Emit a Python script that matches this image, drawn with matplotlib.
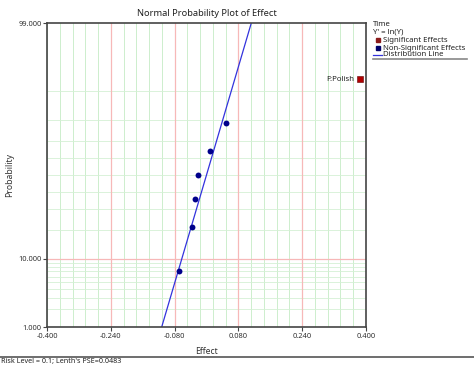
import matplotlib
matplotlib.use("Agg")
import matplotlib.pyplot as plt
from matplotlib.lines import Line2D
from statistics import NormalDist
import numpy as np

plt.rcParams['font.family'] = ['Noto Sans', 'DejaVu Sans']

# ---- data ----
nonsig_effects = [-0.0697, -0.0356, -0.0288, -0.0213, 0.0095, 0.0489]
nonsig_probs = [7.14, 21.43, 35.71, 50.00, 64.29, 78.57]
sig_labels = ["F:Polish"]
sig_effects = [0.385]
sig_probs = [92.86]
lenth_pse = 0.0483
risk_level = 0.1
line_probs = [0.5, 99.5]
x_ticks = [-0.400, -0.240, -0.080, 0.080, 0.240, 0.400]
y_ticks = [1.0, 10.0, 99.0]
y_minor = [2, 3, 4, 5, 6, 7, 8, 9, 20, 30, 40, 50, 60, 70, 80, 90]

nd = NormalDist()
def z(p):
    return np.array([nd.inv_cdf(v / 100.0) for v in p])

W, H = 474, 365
fig = plt.figure(figsize=(W / 100, H / 100), dpi=100)
ax = fig.add_axes([47 / W, 1 - 327 / H, (366 - 47) / W, (327 - 23) / H])

ax.set_xlim(-0.4, 0.4)
ax.set_ylim(z([1])[0], z([99])[0])

# grid
minor_x = np.arange(-0.4, 0.4001, 0.032)
for xv in minor_x:
    ax.axvline(xv, color='#cdeecd', lw=0.7, zorder=0)
for yv in z(y_minor):
    ax.axhline(yv, color='#d5f0d5', lw=0.6, zorder=0)
for xv in x_ticks[1:-1]:
    ax.axvline(xv, color='#f7b8b8', lw=0.9, zorder=1)
ax.axhline(z([10])[0], color='#f7b8b8', lw=0.9, zorder=1)

# distribution line
lz = z(line_probs)
ax.plot(lz * lenth_pse, lz, color='#3333dd', lw=0.9, zorder=2)

# points
ax.scatter(nonsig_effects, z(nonsig_probs), s=18, color='#00008b', zorder=3, linewidths=0)
ax.scatter(sig_effects, z(sig_probs), s=16, marker='s', color='#b00000',
           edgecolors='#600000', linewidths=0.4, zorder=3, clip_on=False)
for lab, xe, pe in zip(sig_labels, sig_effects, sig_probs):
    ax.annotate(lab, (xe, z([pe])[0]), xytext=(-4.5, 0), textcoords='offset points',
                ha='right', va='center', fontsize=5.6, color='#222222')

ax.set_xticks(x_ticks)
ax.set_xticklabels([f"{v:.3f}" for v in x_ticks], fontsize=5.4, color='#333333')
ax.set_yticks(z(y_ticks))
ax.set_yticklabels([f"{v:.3f}" for v in y_ticks], fontsize=5.4, color='#333333')
ax.tick_params(length=3, width=0.8, color='#444444', pad=1)

for s in ax.spines.values():
    s.set_color('#444444')
    s.set_linewidth(1.2)

ax.set_title("Normal Probability Plot of Effect", fontsize=6.7, color='#222222', pad=5)
ax.set_xlabel("Effect", fontsize=6.2, color='#333333')
ax.xaxis.set_label_coords(0.5, -(347 - 327) / (327 - 23))
ax.set_ylabel("Probability", fontsize=6.2, color='#333333')
ax.yaxis.set_label_coords(-(47 - 14) / (366 - 47), 0.5)

# legend (manual, in figure pixels)
def fx(px):
    return px / W
def fy(py):
    return 1 - py / H
fs = 5.6
fig.text(fx(373), fy(25), "Time", fontsize=fs, va='center', ha='left', color='#222222')
fig.text(fx(373), fy(32), "Y' = ln(Y)", fontsize=fs, va='center', ha='left', color='#222222')
fig.add_artist(Line2D([fx(377.5)], [fy(40)], marker='s', ms=2.5, color='#8b1a1a', lw=0))
fig.text(fx(383), fy(40), "Significant Effects", fontsize=fs, va='center', ha='left', color='#222222')
fig.add_artist(Line2D([fx(377.5)], [fy(48)], marker='s', ms=2.5, color='#00006b', lw=0))
fig.text(fx(383), fy(48), "Non-Significant Effects", fontsize=fs, va='center', ha='left', color='#222222')
fig.add_artist(Line2D([fx(373), fx(382)], [fy(55), fy(55)], color='#3333dd', lw=0.9))
fig.text(fx(383), fy(55), "Distribution Line", fontsize=fs, va='center', ha='left', color='#222222')
fig.add_artist(Line2D([fx(373), fx(467)], [fy(58.5), fy(58.5)], color='#888888', lw=1.2))

# bottom status line
fig.add_artist(Line2D([0, 1], [fy(356.5), fy(356.5)], color='#555555', lw=1.2))
fig.text(fx(1), fy(361.5), f"Risk Level = {risk_level}; Lenth's PSE={lenth_pse}",
         fontsize=5.2, va='center', ha='left', color='#222222')

fig.savefig("out.png", dpi=100, facecolor='white')
